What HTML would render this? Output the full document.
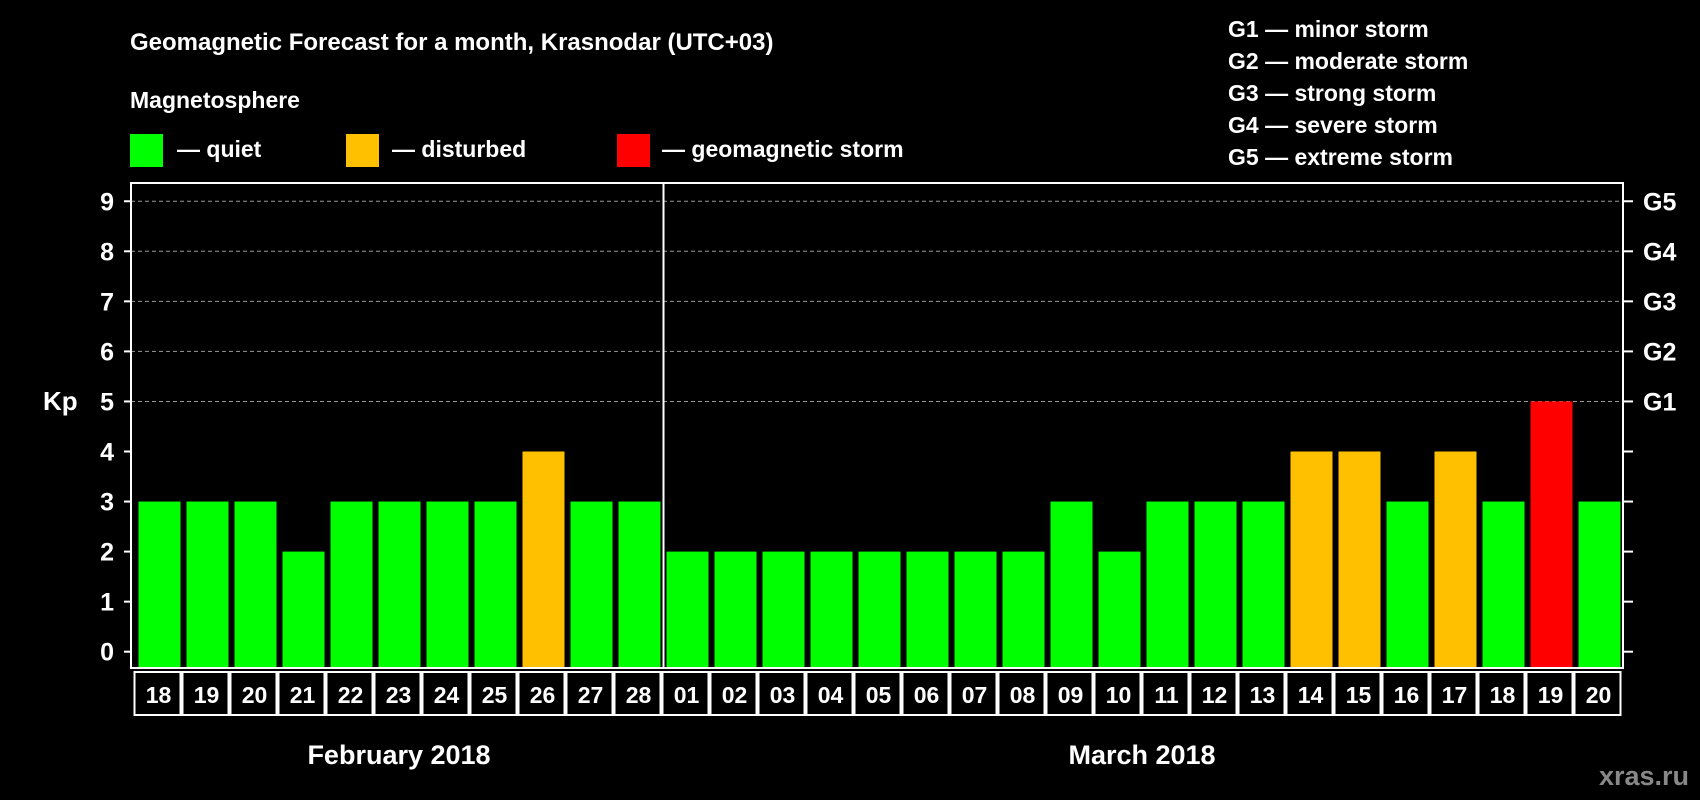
<!DOCTYPE html>
<html><head><meta charset="utf-8"><style>
html,body{margin:0;padding:0;background:#000;}
svg{display:block;font-family:"Liberation Sans",Arial,sans-serif;font-weight:bold;}
</style></head><body>
<svg id="c" width="1700" height="800" viewBox="0 0 1700 800" xmlns="http://www.w3.org/2000/svg">
<text x="130" y="50" fill="#fff" font-size="24">Geomagnetic Forecast for a month, Krasnodar (UTC+03)</text>
<text x="130" y="108" fill="#fff" font-size="23">Magnetosphere</text>
<rect x="130" y="134" width="33" height="33" fill="#00ff00"/>
<text x="177" y="157" fill="#fff" font-size="23">— quiet</text>
<rect x="346" y="134" width="33" height="33" fill="#ffc000"/>
<text x="392" y="157" fill="#fff" font-size="23">— disturbed</text>
<rect x="617" y="134" width="33" height="33" fill="#ff0000"/>
<text x="662" y="157" fill="#fff" font-size="23">— geomagnetic storm</text>
<g fill="#fff" font-size="23">
<text x="1228" y="37">G1 — minor storm</text>
<text x="1228" y="69">G2 — moderate storm</text>
<text x="1228" y="101">G3 — strong storm</text>
<text x="1228" y="133">G4 — severe storm</text>
<text x="1228" y="165">G5 — extreme storm</text>
</g>
<text x="43" y="410" fill="#fff" font-size="26">Kp</text>
<text x="1689" y="785" fill="#888" font-size="27" text-anchor="end">xras.ru</text>
<text x="399" y="764" fill="#fff" font-size="27" text-anchor="middle">February 2018</text>
<text x="1142" y="764" fill="#fff" font-size="27" text-anchor="middle">March 2018</text>
<g id="grid"></g><g id="bars"></g><g id="axes"></g>
</svg>
<script>
const days = ["18","19","20","21","22","23","24","25","26","27","28","01","02","03","04","05","06","07","08","09","10","11","12","13","14","15","16","17","18","19","20"];
const kp = [3,3,3,2,3,3,3,3,4,3,3,2,2,2,2,2,2,2,2,3,2,3,3,3,4,4,3,4,3,5,3];
const yTicks = [0,1,2,3,4,5,6,7,8,9];
const gLabels = ["G1","G2","G3","G4","G5"];
const gLevels = [5,6,7,8,9];
const NS="http://www.w3.org/2000/svg";
const L=131,R=1623,T=183,B=668,slot=48,x0=135.5;
const y=v=>651.7-v*50.05;
const xc=i=>x0+slot*i+slot/2;
function mk(t,a,p){const e=document.createElementNS(NS,t);for(const k in a)e.setAttribute(k,a[k]);p.appendChild(e);return e;}
const grid=document.getElementById('grid'),bars=document.getElementById('bars'),axes=document.getElementById('axes');
gLevels.forEach(v=>{const l=mk('line',{x1:L,x2:R,y1:y(v),y2:y(v),stroke:'#999','stroke-width':1,'stroke-dasharray':'4,3'},grid);

});
kp.forEach((v,i)=>{const c=v>=5?'#ff0000':v>=4?'#ffc000':'#00ff00';
const r=mk('rect',{x:xc(i)-21,y:y(v),width:42,height:B-y(v),fill:c},bars);


const bx=mk('rect',{x:x0+slot*i-1,y:672,width:slot-2,height:43,fill:'none',stroke:'#fff','stroke-width':2},axes);


const t=mk('text',{x:xc(i)-1,y:703,fill:'#fff','font-size':23,'text-anchor':'middle'},axes);t.textContent=days[i];

});
const fr=mk('rect',{x:L,y:T,width:R-L,height:B-T,fill:'none',stroke:'#fff','stroke-width':2},axes);


const sep=mk('line',{x1:663.5,x2:663.5,y1:T,y2:B,stroke:'#fff','stroke-width':2},axes);


yTicks.forEach(v=>{mk('line',{x1:124,x2:L,y1:y(v),y2:y(v),stroke:'#fff','stroke-width':2},axes);
mk('line',{x1:R,x2:1633,y1:y(v),y2:y(v),stroke:'#fff','stroke-width':2},axes);
const t=mk('text',{x:114,y:y(v)+9,fill:'#fff','font-size':25,'text-anchor':'end'},axes);t.textContent=v;

});
gLevels.forEach((v,i)=>{const t=mk('text',{x:1643,y:y(v)+9,fill:'#fff','font-size':25},axes);t.textContent=gLabels[i];

});
</script>
</body></html>
